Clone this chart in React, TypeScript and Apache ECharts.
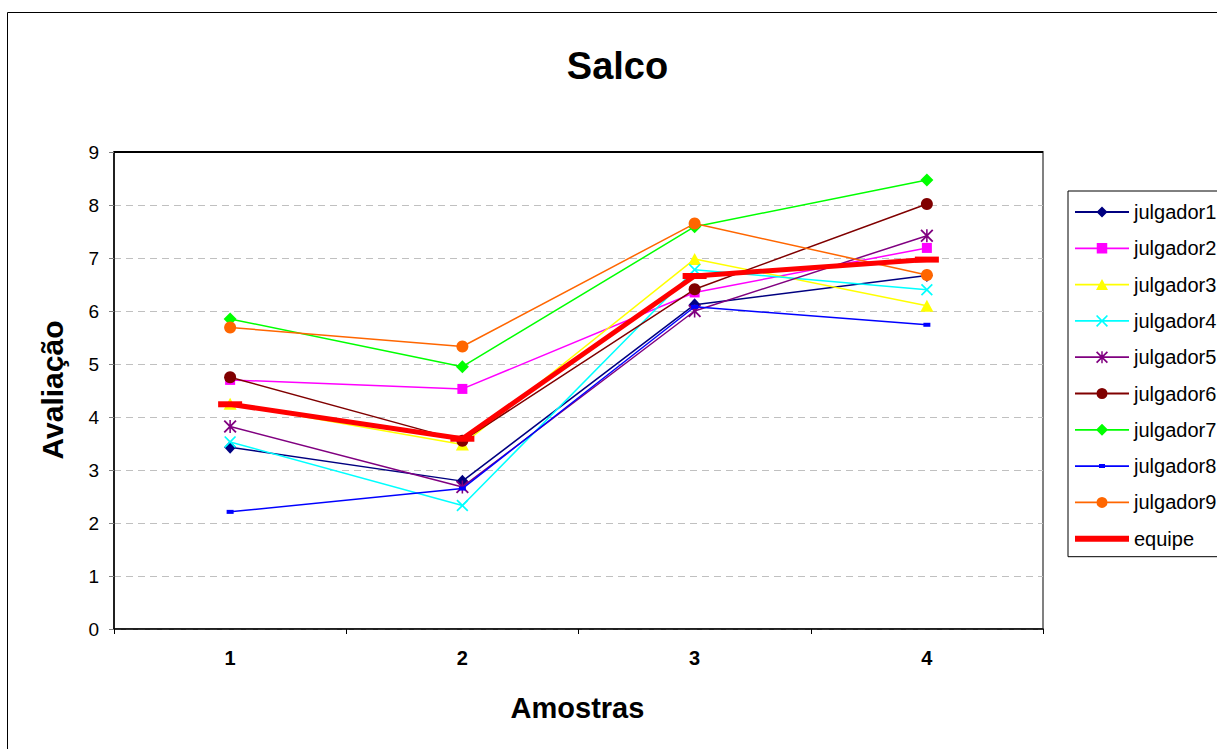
import React, { useEffect, useRef } from "react";
import * as echarts from "echarts";

// Sample numbers on the category axis
const categories = ["1", "2", "3", "4"];

// Scores given by each judge per sample
const julgador1 = [3.43, 2.79, 6.12, 6.67];
const julgador2 = [4.7, 4.53, 6.35, 7.19];
const julgador3 = [4.25, 3.48, 6.98, 6.1];
const julgador4 = [3.53, 2.33, 6.78, 6.4];
const julgador5 = [3.82, 2.68, 6.0, 7.42];
const julgador6 = [4.75, 3.55, 6.41, 8.02];
const julgador7 = [5.85, 4.95, 7.59, 8.47];
const julgador8 = [2.21, 2.65, 6.08, 5.74];
const julgador9 = [5.69, 5.33, 7.65, 6.68];
// Panel average
const equipe = [4.24, 3.59, 6.66, 6.97];

// Value axis range
const yMin = 0;
const yMax = 9;
const yStep = 1;

const FONT = '"Liberation Sans", Arial, Helvetica, sans-serif';
const W = 1217;
const H = 749;
const GRID = { left: 114, top: 152, right: 174, bottom: 120 };

// Marker outlines in a 10x10 box: an "x" and an asterisk (x with a vertical bar)
const CROSS_D = "M0,1L1,0L5,4L9,0L10,1L6,5L10,9L9,10L5,6L1,10L0,9L4,5Z";
const STAR_D = CROSS_D + "M4.4,0L5.6,0L5.6,10L4.4,10Z";
const CROSS = "path://" + CROSS_D;
const STAR = "path://" + STAR_D;

// Legend key box: line across, marker centred
const KEY_W = 54;
const KEY_H = 14;
const CX = KEY_W / 2;
const CY = KEY_H / 2;

function f(n: number) {
  return Math.round(n * 100) / 100;
}
function keyLine(t: number) {
  return `M0,${f(CY - t / 2)}L${KEY_W},${f(CY - t / 2)}L${KEY_W},${f(CY + t / 2)}L0,${f(CY + t / 2)}Z`;
}
function keyRect(w: number, h: number) {
  const x0 = CX - w / 2, x1 = CX + w / 2, y0 = CY - h / 2, y1 = CY + h / 2;
  return `M${f(x0)},${f(y0)}L${f(x1)},${f(y0)}L${f(x1)},${f(y1)}L${f(x0)},${f(y1)}Z`;
}
function keyDiamond(s: number) {
  const r = s / 2;
  return `M${f(CX)},${f(CY - r)}L${f(CX + r)},${f(CY)}L${f(CX)},${f(CY + r)}L${f(CX - r)},${f(CY)}Z`;
}
function keyTriangle(w: number, h: number) {
  return `M${f(CX)},${f(CY - h / 2)}L${f(CX + w / 2)},${f(CY + h / 2)}L${f(CX - w / 2)},${f(CY + h / 2)}Z`;
}
function keyCircle(d: number) {
  const r = d / 2;
  return `M${f(CX - r)},${f(CY)}A${f(r)},${f(r)} 0 1 1 ${f(CX + r)},${f(CY)}A${f(r)},${f(r)} 0 1 1 ${f(CX - r)},${f(CY)}Z`;
}
// Re-map a 10x10 outline onto a box of size s centred in the key
function keyScaled(d10: string, s: number) {
  const k = s / 10;
  const ox = CX - s / 2, oy = CY - s / 2;
  return d10.replace(/(-?\d+(?:\.\d+)?),(-?\d+(?:\.\d+)?)/g, (_m, a, b) =>
    `${f(ox + parseFloat(a) * k)},${f(oy + parseFloat(b) * k)}`
  );
}
// Corner moves pin the key's bounds to the full box
function keyIcon(marker: string, lineW = 1.8) {
  return `path://M0,0M${KEY_W},${KEY_H}` + keyLine(lineW) + marker;
}

type SeriesDef = {
  name: string;
  data: number[];
  color: string;
  symbol: string;
  size: number | number[];
  width: number;
  key: string;
};

const seriesDefs: SeriesDef[] = [
  { name: "julgador1", data: julgador1, color: "#000080", symbol: "diamond", size: [12, 13], width: 1.5, key: keyIcon(keyDiamond(11)) },
  { name: "julgador2", data: julgador2, color: "#FF00FF", symbol: "rect", size: 10, width: 1.5, key: keyIcon(keyRect(10.5, 10.5)) },
  { name: "julgador3", data: julgador3, color: "#FFFF00", symbol: "triangle", size: [13, 12], width: 1.5, key: keyIcon(keyTriangle(12, 11)) },
  { name: "julgador4", data: julgador4, color: "#00FFFF", symbol: CROSS, size: 12, width: 1.5, key: keyIcon(keyScaled(CROSS_D, 12)) },
  { name: "julgador5", data: julgador5, color: "#800080", symbol: STAR, size: 13, width: 1.5, key: keyIcon(keyScaled(STAR_D, 12)) },
  { name: "julgador6", data: julgador6, color: "#800000", symbol: "circle", size: 12, width: 1.5, key: keyIcon(keyCircle(11)) },
  { name: "julgador7", data: julgador7, color: "#00FF00", symbol: "diamond", size: [13, 13], width: 1.5, key: keyIcon(keyDiamond(12)) },
  { name: "julgador8", data: julgador8, color: "#0000FF", symbol: "rect", size: [7, 4], width: 1.5, key: keyIcon(keyRect(6, 4)) },
  { name: "julgador9", data: julgador9, color: "#FF6600", symbol: "circle", size: 12, width: 1.5, key: keyIcon(keyCircle(11)) },
  { name: "equipe", data: equipe, color: "#FF0000", symbol: "rect", size: [24, 6], width: 5, key: keyIcon("", 6) },
];

export default function App() {
  const ref = useRef<HTMLDivElement>(null);

  useEffect(() => {
    if (!ref.current) return;
    const chart = echarts.init(ref.current, undefined, { renderer: "svg" });

    const plotRight = W - GRID.right;

    chart.setOption({
      animation: false,
      backgroundColor: "#ffffff",
      textStyle: { fontFamily: FONT },
      grid: {
        left: GRID.left,
        top: GRID.top,
        right: GRID.right,
        bottom: GRID.bottom,
        show: true,
        borderColor: "#808080",
        borderWidth: 2,
        containLabel: false,
      },
      legend: {
        orient: "vertical",
        left: 1068,
        top: 191,
        itemWidth: KEY_W,
        itemHeight: KEY_H,
        itemGap: 16.3,
        padding: [11, 8, 8, 7],
        borderColor: "#000",
        borderWidth: 1,
        backgroundColor: "#fff",
        selectedMode: false,
        symbolKeepAspect: false,
        data: seriesDefs.map((s) => ({ name: s.name, icon: s.key })),
        textStyle: { fontSize: 20, lineHeight: 20, color: "#000", fontFamily: FONT },
      },
      xAxis: {
        type: "category",
        data: categories,
        boundaryGap: true,
        axisLine: { show: true, lineStyle: { color: "#000", width: 1.5 } },
        axisTick: { show: true, length: 5, inside: false, lineStyle: { color: "#000" } },
        axisLabel: { fontSize: 20, fontWeight: "bold", color: "#000", margin: 19, fontFamily: FONT },
        splitLine: { show: false },
      },
      yAxis: {
        type: "value",
        min: yMin,
        max: yMax,
        interval: yStep,
        axisLine: { show: true, lineStyle: { color: "#000", width: 1.5 } },
        axisTick: { show: true, length: 5, lineStyle: { color: "#808080" } },
        axisLabel: { fontSize: 19, color: "#000", margin: 15, fontFamily: FONT },
        splitLine: { show: true, lineStyle: { color: "#c0c0c0", type: [7, 5], width: 1 } },
      },
      series: seriesDefs.map((s, i) => ({
        type: "line",
        name: s.name,
        data: s.data,
        symbol: s.symbol,
        symbolSize: s.size,
        showSymbol: true,
        showAllSymbol: true,
        lineStyle: { color: s.color, width: s.width },
        itemStyle: { color: s.color, borderWidth: 0 },
        emphasis: { disabled: true },
        z: 2 + i * 0.01,
      })),
      graphic: [
        {
          type: "rect",
          silent: true,
          shape: { x: 7.5, y: 12.5, width: 1300, height: 900 },
          style: { fill: "none", stroke: "#000", lineWidth: 1 },
          z: 0,
        },
        {
          type: "line",
          silent: true,
          shape: { x1: GRID.left, y1: GRID.top, x2: plotRight, y2: GRID.top },
          style: { stroke: "#000", lineWidth: 2 },
          z: 1,
        },
        {
          type: "text",
          silent: true,
          x: 617.5,
          y: 66,
          style: {
            text: "Salco",
            fontSize: 38,
            fontWeight: "bold",
            fontFamily: FONT,
            fill: "#000",
            align: "center",
            verticalAlign: "middle",
          },
        },
        {
          type: "text",
          silent: true,
          x: 577.5,
          y: 708,
          style: {
            text: "Amostras",
            fontSize: 29,
            fontWeight: "bold",
            fontFamily: FONT,
            fill: "#000",
            align: "center",
            verticalAlign: "middle",
          },
        },
        {
          type: "text",
          silent: true,
          x: 52.5,
          y: 390,
          rotation: Math.PI / 2,
          style: {
            text: "Avaliação",
            fontSize: 30,
            fontWeight: "bold",
            fontFamily: FONT,
            fill: "#000",
            align: "center",
            verticalAlign: "middle",
          },
        },
      ],
    });

    return () => chart.dispose();
  }, []);

  return (
    <div
      ref={ref}
      style={{ position: "fixed", left: 0, top: 0, width: W, height: H, background: "#fff" }}
    />
  );
}
